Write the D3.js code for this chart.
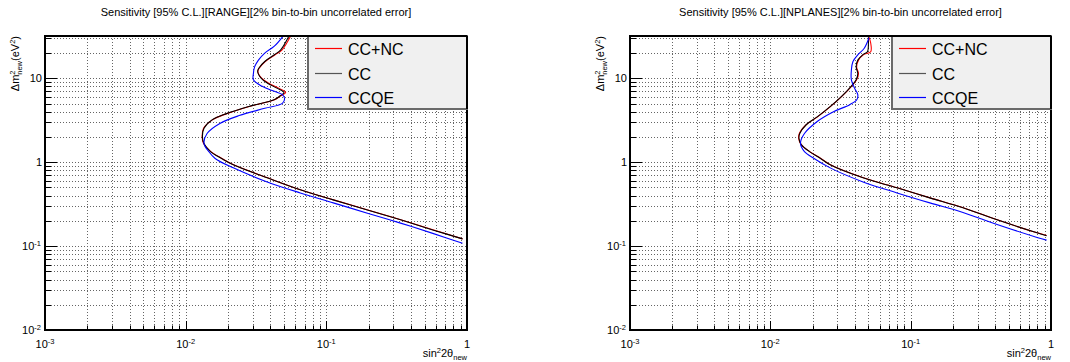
<!DOCTYPE html>
<html><head><meta charset="utf-8">
<script src="https://cdn.jsdelivr.net/npm/d3@7"></script>
<style>
body{margin:0;background:#fff}
svg{display:block;font-family:"Liberation Sans",Arial,Helvetica,sans-serif}
</style>
</head><body>
<svg id="c" width="1070" height="362"></svg>
<script>
// ---------- data ----------
const seriesNames  = ["CC+NC", "CC", "CCQE"];
const seriesColors = ["#ff0000", "#000000", "#0000ff"];
const legendColors = ["#ff0000", "#555555", "#0000ff"];
const panelTitles = [
  "Sensitivity [95% C.L.][RANGE][2% bin-to-bin uncorrelated error]",
  "Sensitivity [95% C.L.][NPLANES][2% bin-to-bin uncorrelated error]"
];
const xTickValues = [1e-3, 1e-2, 1e-1, 1];
const xTickLabels = [["10", "-3"], ["10", "-2"], ["10", "-1"], ["1", ""]];
const yTickValues = [1e-2, 1e-1, 1, 10];
const yTickLabels = [["10", "-2"], ["10", "-1"], ["1", ""], ["10", ""]];
const xDomain = [1e-3, 1];
const yDomain = [1e-2, 32];

// [sin^2 2theta, dm^2]
const rangeCCNC = [
  [0.0555,31.5],[0.0485,21.9],[0.0432,19.1],[0.0368,15.9],[0.0334,13.3],[0.0326,12.1],
  [0.0348,10.0],[0.0390,8.76],[0.0458,7.65],[0.0514,6.8],[0.0474,6.2],[0.0428,5.55],
  [0.0283,4.63],[0.0196,3.8],[0.0155,3.2],[0.0134,2.54],[0.0131,2.0],[0.0134,1.67],
  [0.0151,1.34],[0.0181,1.11],[0.0219,0.932],[0.0382,0.652],[0.0655,0.469],[0.1125,0.356],
  [0.197,0.270],[0.338,0.206],[0.58,0.156],[0.93,0.122]
];
const rangeCC = [
  [0.0540,31.5],[0.0474,21.9],[0.0427,19.1],[0.0365,15.9],[0.0332,13.3],[0.0325,12.1],
  [0.0345,10.0],[0.0382,8.76],[0.0445,7.65],[0.0500,6.8],[0.0470,6.2],[0.0425,5.55],
  [0.0281,4.63],[0.0195,3.8],[0.0154,3.2],[0.0135,2.54],[0.01316,2.0],[0.0135,1.67],
  [0.0150,1.34],[0.0180,1.11],[0.0218,0.932],[0.0380,0.652],[0.0653,0.469],[0.112,0.356],
  [0.196,0.270],[0.337,0.206],[0.578,0.155],[0.929,0.122]
];
const rangeCCQE = [
  [0.0490,31.5],[0.0427,24.2],[0.0365,20.0],[0.0329,16.5],[0.0309,13.7],[0.0303,11.4],
  [0.0303,9.6],[0.0347,8.1],[0.0427,7.0],[0.0487,6.4],[0.0505,5.76],[0.0487,5.04],
  [0.0365,4.4],[0.0240,3.6],[0.0175,2.9],[0.0142,2.2],[0.0135,1.67],[0.0146,1.34],
  [0.0162,1.11],[0.0218,0.857],[0.0380,0.583],[0.0653,0.431],[0.112,0.328],
  [0.196,0.247],[0.337,0.188],[0.578,0.141],[0.929,0.108]
];
const nplanesCCNC = [
  [0.0505,31.0],[0.0519,26.4],[0.0519,20.8],[0.0460,19.1],[0.0425,16.5],[0.0412,13.7],
  [0.0425,11.4],[0.0412,9.6],[0.0380,8.1],[0.0323,6.1],[0.0269,4.63],[0.0218,3.5],
  [0.0180,2.8],[0.0161,2.2],[0.0159,1.93],[0.0166,1.62],[0.0191,1.34],[0.0229,1.11],
  [0.0268,0.932],[0.0460,0.652],[0.0803,0.496],[0.1375,0.376],[0.237,0.286],
  [0.414,0.206],[0.798,0.144],[0.93,0.134]
];
const nplanesCC = [
  [0.0500,31.0],[0.0500,26.4],[0.0492,20.8],[0.0455,19.1],[0.0420,16.5],[0.0409,13.7],
  [0.0420,11.4],[0.0409,9.6],[0.0378,8.1],[0.0322,6.1],[0.0268,4.63],[0.0217,3.5],
  [0.0180,2.8],[0.0162,2.2],[0.0160,1.93],[0.0166,1.62],[0.0190,1.34],[0.0228,1.11],
  [0.0267,0.932],[0.0458,0.652],[0.080,0.496],[0.137,0.376],[0.236,0.286],
  [0.413,0.206],[0.796,0.144],[0.93,0.133]
];
const nplanesCCQE = [
  [0.0505,30.5],[0.0467,22.9],[0.0420,19.1],[0.0388,15.9],[0.0378,12.6],[0.0378,9.6],
  [0.0398,7.65],[0.0420,6.4],[0.0413,5.55],[0.0368,4.86],[0.0282,4.0],[0.0217,3.08],
  [0.0175,2.2],[0.0164,1.67],[0.0175,1.34],[0.0205,1.11],[0.0267,0.857],[0.0458,0.583],
  [0.080,0.431],[0.137,0.328],[0.236,0.252],[0.413,0.181],[0.796,0.127],[0.93,0.118]
];
const panelSeries = [
  [rangeCCNC, rangeCC, rangeCCQE],
  [nplanesCCNC, nplanesCC, nplanesCCQE]
];

// ---------- drawing ----------
const svg = d3.select("#c");
const frames = [{x0:45, x1:467}, {x0:630, x1:1051}];
const fy0 = 36, fy1 = 330;

function minorVals(lo, hi) {
  const out = [];
  for (let e = Math.floor(Math.log10(lo)); e <= Math.ceil(Math.log10(hi)); e++) {
    for (let m = 1; m <= 9; m++) {
      const v = m * Math.pow(10, e);
      if (v >= lo * 0.9999 && v <= hi * 1.0001) out.push(v);
    }
  }
  return out;
}

frames.forEach((f, pi) => {
  const x = d3.scaleLog().domain(xDomain).range([f.x0, f.x1]);
  const y = d3.scaleLog().domain(yDomain).range([fy1, fy0]);
  const g = svg.append("g");
  const cid = "clip" + pi;
  g.append("clipPath").attr("id", cid).append("rect")
    .attr("x", f.x0).attr("y", fy0).attr("width", f.x1 - f.x0).attr("height", fy1 - fy0);

  // title
  g.append("text").attr("x", (f.x0 + f.x1) / 2).attr("y", 15.5).attr("text-anchor", "middle")
    .attr("font-size", 11).attr("fill", "#000").text(panelTitles[pi]);

  // grid
  const xv = minorVals(xDomain[0], xDomain[1]);
  const yv = minorVals(yDomain[0], yDomain[1]);
  const grid = g.append("g").attr("stroke", "#000").attr("stroke-width", 1)
    .attr("stroke-dasharray", "1 2").attr("opacity", 0.6);
  xv.forEach(v => {
    const px = Math.round(x(v)) + 0.5;
    grid.append("line").attr("x1", px).attr("x2", px).attr("y1", fy0).attr("y2", fy1);
  });
  yv.forEach(v => {
    const py = Math.round(y(v)) + 0.5;
    grid.append("line").attr("x1", f.x0).attr("x2", f.x1).attr("y1", py).attr("y2", py);
  });

  // curves
  const line = d3.line().x(d => x(d[0])).y(d => y(d[1])).curve(d3.curveCatmullRom.alpha(0.5));
  const cg = g.append("g").attr("clip-path", `url(#${cid})`);
  panelSeries[pi].forEach((s, si) => {
    cg.append("path").datum(s).attr("d", line).attr("fill", "none")
      .attr("stroke", seriesColors[si]).attr("stroke-width", 1.1);
  });

  // ticks
  const tg = g.append("g").attr("stroke", "#000").attr("stroke-width", 1);
  yv.forEach(v => {
    const major = yTickValues.some(t => Math.abs(t - v) / v < 1e-6);
    const py = Math.round(y(v)) + 0.5;
    tg.append("line").attr("x1", f.x0).attr("x2", f.x0 + (major ? 12 : 6)).attr("y1", py).attr("y2", py);
  });
  xv.forEach(v => {
    const major = xTickValues.some(t => Math.abs(t - v) / v < 1e-6);
    const px = Math.round(x(v)) + 0.5;
    tg.append("line").attr("x1", px).attr("x2", px).attr("y1", fy1).attr("y2", fy1 - (major ? 9 : 4.5));
  });

  // frame
  g.append("rect").attr("x", f.x0).attr("y", fy0).attr("width", f.x1 - f.x0).attr("height", fy1 - fy0)
    .attr("fill", "none").attr("stroke", "#000").attr("stroke-width", 2);

  // tick labels
  yTickValues.forEach((v, i) => {
    const lab = yTickLabels[i];
    if (lab[1]) {
      const t = g.append("text").attr("x", f.x0 - 4).attr("y", y(v) + 4).attr("text-anchor", "end")
        .attr("font-size", 11).attr("fill", "#000");
      t.append("tspan").text(lab[0]);
      t.append("tspan").attr("dy", -4.5).attr("font-size", 7.5).text(lab[1]);
    } else {
      g.append("text").attr("x", f.x0 - 3).attr("y", y(v) + 4).attr("text-anchor", "end")
        .attr("font-size", 11).attr("fill", "#000").text(lab[0]);
    }
  });
  xTickValues.forEach((v, i) => {
    const lab = xTickLabels[i];
    const t = g.append("text").attr("x", x(v)).attr("y", 348).attr("text-anchor", "middle")
      .attr("font-size", 11).attr("fill", "#000");
    t.append("tspan").text(lab[0]);
    if (lab[1]) t.append("tspan").attr("dy", -4.5).attr("font-size", 7.5).text(lab[1]);
  });

  // axis titles
  const xt = g.append("text").attr("x", f.x1).attr("y", 357).attr("text-anchor", "end")
    .attr("font-size", 11).attr("fill", "#000");
  xt.append("tspan").text("sin");
  xt.append("tspan").attr("dy", -4.5).attr("font-size", 7.5).text("2");
  xt.append("tspan").attr("dy", 4.5).text("2\u03b8");
  xt.append("tspan").attr("dy", 3).attr("font-size", 7.5).text("new");

  const yt = g.append("text").attr("transform", `translate(${f.x0 - 26},${fy0}) rotate(-90)`)
    .attr("text-anchor", "end").attr("font-size", 11).attr("fill", "#000");
  yt.append("tspan").text("\u0394m");
  yt.append("tspan").attr("dy", -4.5).attr("font-size", 7.5).text("2");
  yt.append("tspan").attr("dx", -4.2).attr("dy", 7.5).attr("font-size", 7.5).text("new");
  yt.append("tspan").attr("dy", -3).text("(eV");
  yt.append("tspan").attr("dy", -4.5).attr("font-size", 7.5).text("2");
  yt.append("tspan").attr("dy", 4.5).text(")");

  // legend
  const lx = f.x1 - 159, ly = fy0, lw = 159, lh = 73;
  const lg = g.append("g");
  lg.append("rect").attr("x", lx).attr("y", ly).attr("width", lw).attr("height", lh)
    .attr("fill", "#f0f0f0").attr("stroke", "#6a6a6a").attr("stroke-width", 2);
  g.append("line").attr("x1", f.x0).attr("x2", f.x1).attr("y1", fy0).attr("y2", fy0)
    .attr("stroke", "#000").attr("stroke-width", 2);
  g.append("line").attr("x1", f.x1).attr("x2", f.x1).attr("y1", fy0).attr("y2", ly + lh)
    .attr("stroke", "#000").attr("stroke-width", 2);
  const rows = [12.5, 37.5, 61.5];
  seriesNames.forEach((n, i) => {
    lg.append("line").attr("x1", lx + 7).attr("x2", lx + 34).attr("y1", ly + rows[i]).attr("y2", ly + rows[i])
      .attr("stroke", legendColors[i]).attr("stroke-width", 1.2);
    lg.append("text").attr("x", lx + 40).attr("y", ly + rows[i] + 6).attr("font-size", 16)
      .attr("fill", "#000").text(n);
  });
});
</script>
</body></html>
